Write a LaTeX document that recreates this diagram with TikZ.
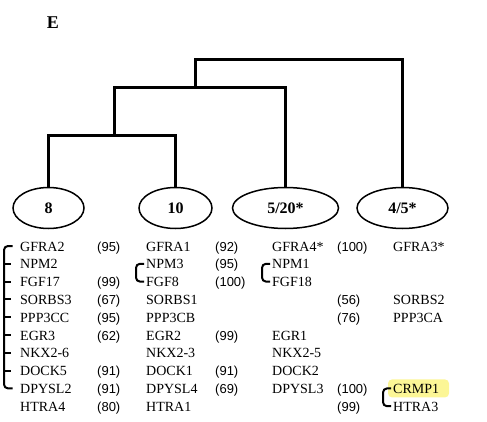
\documentclass[tikz,border=0pt]{standalone}
\usepackage{fontspec}
\setmainfont{Liberation Serif}
\newfontfamily\numfont{Liberation Sans}
\usetikzlibrary{shapes.geometric}
\definecolor{hl}{RGB}{252,246,150}
\tikzset{
  tree/.style={line width=3pt},
  brk/.style={line width=2pt, rounded corners=4pt},
  tick/.style={line width=2pt},
  clus/.style={ellipse, draw, line width=1.5pt, minimum height=41pt, inner sep=0pt, font=\bfseries\fontsize{16}{18}\selectfont},
  gname/.style={anchor=base west, inner sep=0pt, font=\fontsize{14}{16}\selectfont},
  gnum/.style={anchor=base west, inner sep=0pt, font=\numfont\fontsize{13}{15}\selectfont},
}
\begin{document}
\begin{tikzpicture}[x=1pt,y=-1pt]
\useasboundingbox (0,0) rectangle (487,422);
% panel label
\node[font=\bfseries\fontsize{18}{20}\selectfont] (lab) at (53,23) {E};
% clusters
\node[clus, minimum width=71pt]  (e8)   at (48.5,208)  {8};
\node[clus, minimum width=73pt]  (e10)  at (175.5,208) {10};
\node[clus, minimum width=106pt] (e520) at (285.5,208) {5/20*};
\node[clus, minimum width=91pt]  (e45)  at (402.5,208) {4/5*};
% dendrogram
\coordinate (j1) at (114,135.5);
\coordinate (j2) at (195,88);
\coordinate (j3) at (195,60);
\draw[tree] (e8.north) |- (e10.north |- j1) -- (e10.north);
\draw[tree] (j1) |- (e520.north |- j2) -- (e520.north);
\draw[tree] (j2) |- (e45.north |- j3) -- (e45.north);
% highlight
\fill[hl, rounded corners=4pt] (388,379.4) rectangle (449,397.4);
% brackets
\draw[brk] (12.5,246) -- (4,246) -- (4,388.4) -- (12.5,388.4);
\foreach \y in {263.8,281.6,299.4,317.2,335,352.8,370.6}
  \draw[tick] (4,\y) -- (11,\y);
\draw[brk] (144,263.8) -- (136,263.8) -- (136,281.6) -- (144,281.6);
\draw[brk] (270,263.8) -- (262,263.8) -- (262,281.6) -- (270,281.6);
\draw[brk] (391,388.4) -- (383,388.4) -- (383,406.2) -- (391,406.2);
% column 1
\node[gname] (a1) at (20,251) {GFRA2};
\node[gname] (a2) at (20,268.8) {NPM2};
\node[gname] (a3) at (20,286.6) {FGF17};
\node[gname] (a4) at (20,304.4) {SORBS3};
\node[gname] (a5) at (20,322.2) {PPP3CC};
\node[gname] (a6) at (20,340) {EGR3};
\node[gname] (a7) at (20,357.8) {NKX2-6};
\node[gname] (a8) at (20,375.6) {DOCK5};
\node[gname] (a9) at (20,393.4) {DPYSL2};
\node[gname] (a10) at (20,411.2) {HTRA4};
\node[gnum] (p1) at (97,251) {(95)};
\node[gnum] (p3) at (97,286.6) {(99)};
\node[gnum] (p4) at (97,304.4) {(67)};
\node[gnum] (p5) at (97,322.2) {(95)};
\node[gnum] (p6) at (97,340) {(62)};
\node[gnum] (p8) at (97,375.6) {(91)};
\node[gnum] (p9) at (97,393.4) {(91)};
\node[gnum] (p10) at (97,411.2) {(80)};
% column 2
\node[gname] (b1) at (146,251) {GFRA1};
\node[gname] (b2) at (146,268.8) {NPM3};
\node[gname] (b3) at (146,286.6) {FGF8};
\node[gname] (b4) at (146,304.4) {SORBS1};
\node[gname] (b5) at (146,322.2) {PPP3CB};
\node[gname] (b6) at (146,340) {EGR2};
\node[gname] (b7) at (146,357.8) {NKX2-3};
\node[gname] (b8) at (146,375.6) {DOCK1};
\node[gname] (b9) at (146,393.4) {DPYSL4};
\node[gname] (b10) at (146,411.2) {HTRA1};
\node[gnum] (q1) at (215,251) {(92)};
\node[gnum] (q2) at (215,268.8) {(95)};
\node[gnum] (q3) at (215,286.6) {(100)};
\node[gnum] (q6) at (215,340) {(99)};
\node[gnum] (q8) at (215,375.6) {(91)};
\node[gnum] (q9) at (215,393.4) {(69)};
% column 3
\node[gname] (c1) at (272,251) {GFRA4*};
\node[gname] (c2) at (272,268.8) {NPM1};
\node[gname] (c3) at (272,286.6) {FGF18};
\node[gname] (c6) at (272,340) {EGR1};
\node[gname] (c7) at (272,357.8) {NKX2-5};
\node[gname] (c8) at (272,375.6) {DOCK2};
\node[gname] (c9) at (272,393.4) {DPYSL3};
\node[gnum] (r1) at (337,251) {(100)};
\node[gnum] (r4) at (337,304.4) {(56)};
\node[gnum] (r5) at (337,322.2) {(76)};
\node[gnum] (r9) at (337,393.4) {(100)};
\node[gnum] (r10) at (337,411.2) {(99)};
% column 4
\node[gname] (d1) at (393,251) {GFRA3*};
\node[gname] (d4) at (393,304.4) {SORBS2};
\node[gname] (d5) at (393,322.2) {PPP3CA};
\node[gname] (d9) at (393,393.4) {CRMP1};
\node[gname] (d10) at (393,411.2) {HTRA3};
\end{tikzpicture}
\end{document}
